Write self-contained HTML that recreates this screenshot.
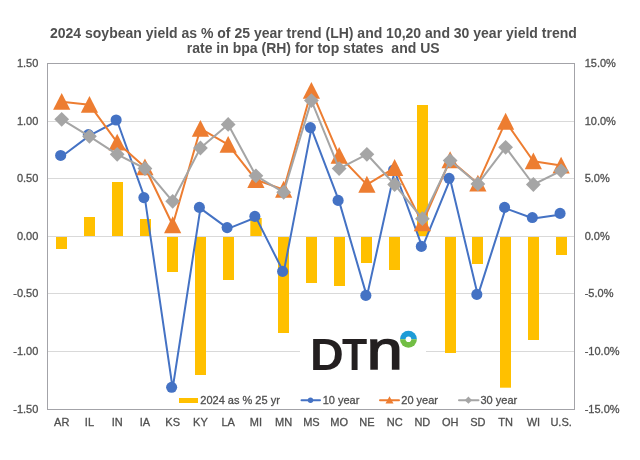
<!DOCTYPE html>
<html><head><meta charset="utf-8"><title>chart</title>
<style>
html,body{margin:0;padding:0;background:#fff}
svg{display:block}
text{font-family:"Liberation Sans",Arial,sans-serif}
.ax{font-size:11px;fill:#505050;stroke:#505050;stroke-width:.3px}
.tt{font-size:14px;font-weight:bold;fill:#505050}
</style></head><body>
<svg width="640" height="460" viewBox="0 0 640 460">
<rect width="640" height="460" fill="#fff"/>
<text class="tt" x="313.4" y="37.7" text-anchor="middle" xml:space="preserve">2024 soybean yield as % of 25 year trend (LH) and 10,20 and 30 year yield trend</text>
<text class="tt" x="313.2" y="52.6" text-anchor="middle" xml:space="preserve">rate in bpa (RH) for top states  and US</text>
<g stroke="#d9d9d9" stroke-width="1">
<line x1="47.5" x2="574.5" y1="121.5" y2="121.5"/>
<line x1="47.5" x2="574.5" y1="178.5" y2="178.5"/>
<line x1="47.5" x2="574.5" y1="236.5" y2="236.5"/>
<line x1="47.5" x2="574.5" y1="293.5" y2="293.5"/>
<line x1="47.5" x2="574.5" y1="351.5" y2="351.5"/>
</g>
<g fill="#ffc000">
<rect x="56" y="237" width="11" height="12.0"/>
<rect x="84" y="217" width="11" height="19.0"/>
<rect x="112" y="182" width="11" height="54.0"/>
<rect x="140" y="219" width="11" height="17.0"/>
<rect x="167" y="237" width="11" height="35.0"/>
<rect x="195" y="237" width="11" height="138.0"/>
<rect x="223" y="237" width="11" height="43.0"/>
<rect x="250.3" y="218" width="11.4" height="18.0"/>
<rect x="278" y="237" width="11" height="96.0"/>
<rect x="306" y="237" width="11" height="46.0"/>
<rect x="334" y="237" width="11" height="49.0"/>
<rect x="361" y="237" width="11" height="26.0"/>
<rect x="389" y="237" width="11" height="33.0"/>
<rect x="417" y="105" width="11" height="131.0"/>
<rect x="445" y="237" width="11" height="116.0"/>
<rect x="472" y="237" width="11" height="27.0"/>
<rect x="500" y="237" width="11" height="150.7"/>
<rect x="528" y="237" width="11" height="103.0"/>
<rect x="556" y="237" width="11" height="18.0"/>
</g>
<rect x="300" y="322" width="126" height="60" fill="#fff"/>
<rect x="47.5" y="63.5" width="527.0" height="346.0" fill="none" stroke="#a3a3a8" stroke-width="1"/>
<g id="logo" font-family="Liberation Sans" fill="#231f20"><text transform="translate(309.98,369.6) scale(1.055,1)" font-size="44.3" font-weight="bold">D</text><text transform="translate(341.99,369.6) scale(0.932,1)" font-size="44.3" font-weight="bold">T</text><text transform="translate(366.67,368.8) scale(1.18,1)" font-size="54.8" stroke="#231f20" stroke-width="1.6">n</text><path d="M400 339.2a8.45 8.45 0 0 1 16.9 0z" fill="#1e9cd7"/><path d="M400 339.2a8.45 8.45 0 0 0 16.9 0z" fill="#72be44"/><circle cx="408.45" cy="339.2" r="2.8" fill="#fff"/></g>
<polyline points="61.70,156.45 89.45,135.60 117.19,121.00 144.94,198.60 172.68,388.30 200.43,208.40 228.17,228.60 255.92,217.40 283.66,272.40 311.41,128.60 339.15,201.40 366.89,296.40 394.64,171.00 422.38,247.40 450.13,179.30 477.88,295.40 505.62,208.40 533.37,218.55 561.11,214.40" fill="none" stroke="#4472c4" stroke-width="2" stroke-linejoin="round" stroke-linecap="round"/>
<g fill="#4472c4">
<circle cx="60.65" cy="155.45" r="5.55"/>
<circle cx="88.40" cy="134.60" r="5.55"/>
<circle cx="116.14" cy="120.00" r="5.55"/>
<circle cx="143.88" cy="197.60" r="5.55"/>
<circle cx="171.63" cy="387.30" r="5.55"/>
<circle cx="199.38" cy="207.40" r="5.55"/>
<circle cx="227.12" cy="227.60" r="5.55"/>
<circle cx="254.87" cy="216.40" r="5.55"/>
<circle cx="282.61" cy="271.40" r="5.55"/>
<circle cx="310.36" cy="127.60" r="5.55"/>
<circle cx="338.10" cy="200.40" r="5.55"/>
<circle cx="365.84" cy="295.40" r="5.55"/>
<circle cx="393.59" cy="170.00" r="5.55"/>
<circle cx="421.33" cy="246.40" r="5.55"/>
<circle cx="449.08" cy="178.30" r="5.55"/>
<circle cx="476.82" cy="294.40" r="5.55"/>
<circle cx="504.57" cy="207.40" r="5.55"/>
<circle cx="532.32" cy="217.55" r="5.55"/>
<circle cx="560.06" cy="213.40" r="5.55"/>
</g>
<polyline points="61.70,101.65 89.45,104.70 117.19,142.40 144.94,167.20 172.68,225.00 200.43,128.70 228.17,144.70 255.92,179.80 283.66,189.60 311.41,90.70 339.15,155.70 366.89,184.60 394.64,167.80 422.38,223.10 450.13,160.00 477.88,183.40 505.62,121.55 533.37,161.20 561.11,165.40" fill="none" stroke="#ed7d31" stroke-width="2" stroke-linejoin="round" stroke-linecap="round"/>
<g fill="#ed7d31">
<path d="M61.70 92.90L70.30 109.80H53.10Z"/>
<path d="M89.45 95.95L98.05 112.85H80.85Z"/>
<path d="M117.19 133.65L125.79 150.55H108.59Z"/>
<path d="M144.94 158.45L153.53 175.35H136.34Z"/>
<path d="M172.68 216.25L181.28 233.15H164.08Z"/>
<path d="M200.43 119.95L209.03 136.85H191.83Z"/>
<path d="M228.17 135.95L236.77 152.85H219.57Z"/>
<path d="M255.92 171.05L264.52 187.95H247.32Z"/>
<path d="M283.66 180.85L292.26 197.75H275.06Z"/>
<path d="M311.41 81.95L320.01 98.85H302.81Z"/>
<path d="M339.15 146.95L347.75 163.85H330.55Z"/>
<path d="M366.89 175.85L375.50 192.75H358.29Z"/>
<path d="M394.64 159.05L403.24 175.95H386.04Z"/>
<path d="M422.38 214.35L430.99 231.25H413.78Z"/>
<path d="M450.13 151.25L458.73 168.15H441.53Z"/>
<path d="M477.88 174.65L486.48 191.55H469.27Z"/>
<path d="M505.62 112.80L514.22 129.70H497.02Z"/>
<path d="M533.37 152.45L541.97 169.35H524.76Z"/>
<path d="M561.11 156.65L569.71 173.55H552.51Z"/>
</g>
<polyline points="61.70,119.35 89.45,136.30 117.19,154.30 144.94,168.50 172.68,201.30 200.43,148.00 228.17,124.40 255.92,175.80 283.66,192.30 311.41,100.60 339.15,168.60 366.89,154.30 394.64,184.50 422.38,218.70 450.13,160.60 477.88,183.90 505.62,147.30 533.37,184.50 561.11,170.80" fill="none" stroke="#a5a5a5" stroke-width="2" stroke-linejoin="round" stroke-linecap="round"/>
<g fill="#a5a5a5">
<path d="M61.70 111.95L69.10 119.35L61.70 126.75L54.30 119.35Z"/>
<path d="M89.45 128.90L96.85 136.30L89.45 143.70L82.05 136.30Z"/>
<path d="M117.19 146.90L124.59 154.30L117.19 161.70L109.79 154.30Z"/>
<path d="M144.94 161.10L152.34 168.50L144.94 175.90L137.53 168.50Z"/>
<path d="M172.68 193.90L180.08 201.30L172.68 208.70L165.28 201.30Z"/>
<path d="M200.43 140.60L207.83 148.00L200.43 155.40L193.03 148.00Z"/>
<path d="M228.17 117.00L235.57 124.40L228.17 131.80L220.77 124.40Z"/>
<path d="M255.92 168.40L263.31 175.80L255.92 183.20L248.52 175.80Z"/>
<path d="M283.66 184.90L291.06 192.30L283.66 199.70L276.26 192.30Z"/>
<path d="M311.41 93.20L318.81 100.60L311.41 108.00L304.01 100.60Z"/>
<path d="M339.15 161.20L346.55 168.60L339.15 176.00L331.75 168.60Z"/>
<path d="M366.89 146.90L374.29 154.30L366.89 161.70L359.50 154.30Z"/>
<path d="M394.64 177.10L402.04 184.50L394.64 191.90L387.24 184.50Z"/>
<path d="M422.38 211.30L429.78 218.70L422.38 226.10L414.99 218.70Z"/>
<path d="M450.13 153.20L457.53 160.60L450.13 168.00L442.73 160.60Z"/>
<path d="M477.88 176.50L485.27 183.90L477.88 191.30L470.48 183.90Z"/>
<path d="M505.62 139.90L513.02 147.30L505.62 154.70L498.22 147.30Z"/>
<path d="M533.37 177.10L540.76 184.50L533.37 191.90L525.97 184.50Z"/>
<path d="M561.11 163.40L568.51 170.80L561.11 178.20L553.71 170.80Z"/>
</g>
<text class="ax" x="38.3" y="67.2" text-anchor="end">1.50</text>
<text class="ax" x="38.3" y="125.2" text-anchor="end">1.00</text>
<text class="ax" x="38.3" y="182.2" text-anchor="end">0.50</text>
<text class="ax" x="38.3" y="240.2" text-anchor="end">0.00</text>
<text class="ax" x="38.3" y="297.2" text-anchor="end">-0.50</text>
<text class="ax" x="38.3" y="355.2" text-anchor="end">-1.00</text>
<text class="ax" x="38.3" y="413.2" text-anchor="end">-1.50</text>
<text class="ax" x="584.7" y="67.2">15.0%</text>
<text class="ax" x="584.7" y="125.2">10.0%</text>
<text class="ax" x="584.7" y="182.2">5.0%</text>
<text class="ax" x="584.7" y="240.2">0.0%</text>
<text class="ax" x="584.7" y="297.2">-5.0%</text>
<text class="ax" x="584.7" y="355.2">-10.0%</text>
<text class="ax" x="584.7" y="413.2">-15.0%</text>
<text class="ax" x="61.70" y="426.3" text-anchor="middle">AR</text>
<text class="ax" x="89.45" y="426.3" text-anchor="middle">IL</text>
<text class="ax" x="117.19" y="426.3" text-anchor="middle">IN</text>
<text class="ax" x="144.94" y="426.3" text-anchor="middle">IA</text>
<text class="ax" x="172.68" y="426.3" text-anchor="middle">KS</text>
<text class="ax" x="200.43" y="426.3" text-anchor="middle">KY</text>
<text class="ax" x="228.17" y="426.3" text-anchor="middle">LA</text>
<text class="ax" x="255.92" y="426.3" text-anchor="middle">MI</text>
<text class="ax" x="283.66" y="426.3" text-anchor="middle">MN</text>
<text class="ax" x="311.41" y="426.3" text-anchor="middle">MS</text>
<text class="ax" x="339.15" y="426.3" text-anchor="middle">MO</text>
<text class="ax" x="366.89" y="426.3" text-anchor="middle">NE</text>
<text class="ax" x="394.64" y="426.3" text-anchor="middle">NC</text>
<text class="ax" x="422.38" y="426.3" text-anchor="middle">ND</text>
<text class="ax" x="450.13" y="426.3" text-anchor="middle">OH</text>
<text class="ax" x="477.88" y="426.3" text-anchor="middle">SD</text>
<text class="ax" x="505.62" y="426.3" text-anchor="middle">TN</text>
<text class="ax" x="533.37" y="426.3" text-anchor="middle">WI</text>
<text class="ax" x="561.11" y="426.3" text-anchor="middle">U.S.</text>
<rect x="179" y="398" width="19" height="5" fill="#ffc000"/>
<text class="ax" x="200.3" y="404">2024 as % 25 yr</text>
<line x1="301.5" x2="320" y1="400.2" y2="400.2" stroke="#4472c4" stroke-width="2" stroke-linecap="round"/><circle cx="310.5" cy="400.3" r="2.7" fill="#4472c4"/>
<text class="ax" x="322.7" y="404">10 year</text>
<line x1="380" x2="399" y1="400.2" y2="400.2" stroke="#ed7d31" stroke-width="2" stroke-linecap="round"/><path d="M389.5 396.3L393.5 403.5H385.5Z" fill="#ed7d31"/>
<text class="ax" x="401.3" y="404">20 year</text>
<line x1="459" x2="478.5" y1="400.2" y2="400.2" stroke="#a5a5a5" stroke-width="2" stroke-linecap="round"/><path d="M468.4 396.6L472 400.2L468.4 403.8L464.8 400.2Z" fill="#a5a5a5"/>
<text class="ax" x="480.5" y="404">30 year</text>
</svg>
</body></html>
